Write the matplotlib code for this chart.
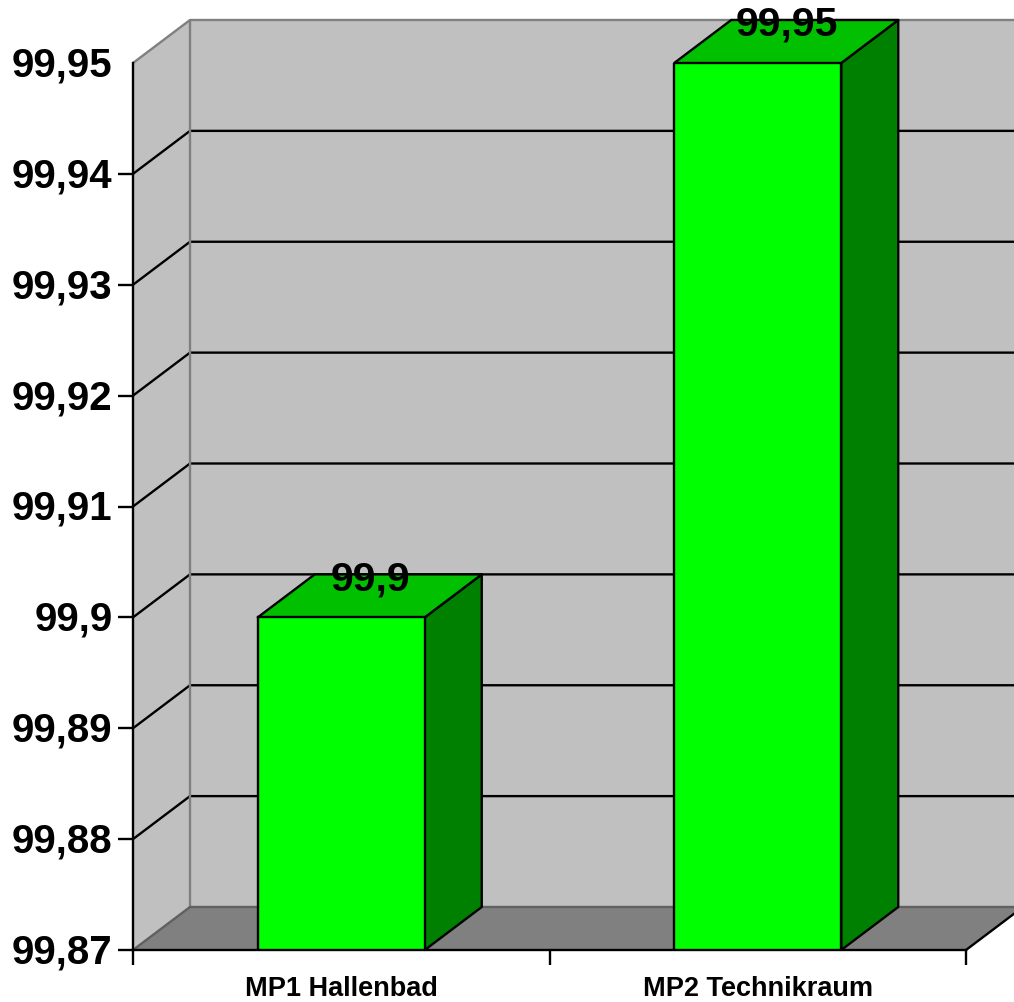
import matplotlib
matplotlib.use("Agg")
import matplotlib.pyplot as plt
from matplotlib.patches import Polygon
from matplotlib.transforms import ScaledTranslation

categories = ["MP1 Hallenbad", "MP2 Technikraum"]
values = [99.9, 99.95]
value_labels = ["99,9", "99,95"]
tick_values = [99.87, 99.88, 99.89, 99.90, 99.91, 99.92, 99.93, 99.94, 99.95]
tick_labels = ["99,87", "99,88", "99,89", "99,9", "99,91", "99,92", "99,93", "99,94", "99,95"]

W, H = 1014, 1003
DX, DY = 57, 43          # oblique depth of the 3D box, in pixels
BAR_W = 167 / 416.5      # bar width as a share of one category slot
LW = 1.7
WALL = "#C0C0C0"
FLOOR = "#808080"
EDGE = "#808080"
FLOOR_EDGE = "#606060"

plt.rcParams["font.family"] = ["Liberation Sans", "DejaVu Sans"]
fig = plt.figure(figsize=(W / 100, H / 100), dpi=100, facecolor="white")
ax = fig.add_axes([133 / W, 1 - 951 / H, (966 - 133) / W, (951 - 64) / H])
ax.set_xlim(0, 2)
ax.set_ylim(99.87, 99.95)
ax.patch.set_alpha(0)
for s in ("top", "right"):
    ax.spines[s].set_visible(False)
for s in ("left", "bottom"):
    ax.spines[s].set_color("black")
    ax.spines[s].set_linewidth(LW)


def front(x, y):
    """Display position of a data point on the front plane."""
    return tuple(ax.transData.transform((x, y)))


def depth(x, y):
    """Display position of a data point pushed back to the rear plane."""
    px = front(x, y)
    return px[0] + DX, px[1] + DY


def poly(points, face, edge="black", z=2):
    ax.add_patch(Polygon(points, closed=True, transform=None, facecolor=face,
                         edgecolor=edge, linewidth=LW, zorder=z, clip_on=False,
                         joinstyle="round"))


def line(points, color, z, lw=LW):
    xs, ys = zip(*points)
    ax.plot(xs, ys, transform=None, color=color, lw=lw, zorder=z, clip_on=False,
            solid_capstyle="butt")


y0, y1 = tick_values[0], tick_values[-1]
right_edge = W + 5

# back wall, side wall and floor
poly([depth(0, y0), (right_edge, depth(0, y0)[1]), (right_edge, depth(0, y1)[1]), depth(0, y1)],
     WALL, "none", z=0.5)
poly([front(0, y0), depth(0, y0), depth(0, y1), front(0, y1)], WALL, "none", z=0.6)
poly([front(0, y0), front(2, y0), depth(2, y0), (right_edge, depth(2, y0)[1]), depth(0, y0)],
     FLOOR, "none", z=0.7)

# gridlines run along the side wall and across the back wall
for t in tick_values[1:-1]:
    line([front(0, t), depth(0, t), (right_edge, depth(0, t)[1])], "black", 1)

# box edges
line([front(0, y1), depth(0, y1), (right_edge, depth(0, y1)[1])], EDGE, 1.1)
line([depth(0, y0), depth(0, y1)], EDGE, 1.1)
line([front(0, y0), depth(0, y0), (right_edge, depth(0, y0)[1])], FLOOR_EDGE, 1.1)
line([front(2, y0), depth(2, y0)], "black", 1.2)

# the three visible faces of each bar
for i, (v, lab) in enumerate(zip(values, value_labels)):
    left, right = i + 0.5 - BAR_W / 2, i + 0.5 + BAR_W / 2
    poly([front(right, y0), depth(right, y0), depth(right, v), front(right, v)], "#008000", z=3)
    poly([front(left, v), front(right, v), depth(right, v), depth(left, v)], "#00C000", z=3)
    ax.bar(i + 0.5, v - y0, BAR_W, bottom=y0, color="#00FF00", edgecolor="black",
           linewidth=LW, zorder=4)
    tx, ty = depth(i + 0.5, v)
    ax.text(tx - 28, ty - 4, lab, transform=None, ha="center", va="center", fontsize=29.5,
            fontweight="bold", color="black", zorder=6, clip_on=False)

ax.set_yticks(tick_values, tick_labels)
ax.set_xticks([0, 1, 2], ["", "", ""])
ax.tick_params(axis="y", length=10.8, width=LW, direction="out", labelsize=29, pad=4)
ax.tick_params(axis="x", length=10.8, width=LW, direction="out")
ax.yaxis.get_major_ticks()[-1].tick1line.set_visible(False)

# nudge the value-axis labels up so their digits centre on the ticks
label_shift = ScaledTranslation(0, 2.5 / 100, fig.dpi_scale_trans)
for lab in ax.get_yticklabels():
    lab.set_fontweight("bold")
    lab.set_transform(lab.get_transform() + label_shift)

# category names sit under the centre of each slot
for i, c in enumerate(categories):
    ax.text(front(i + 0.5, y0)[0], H - 989, c, transform=None, ha="center", va="center",
            fontsize=19.5, fontweight="bold", clip_on=False)

fig.savefig("out.png", dpi=100)
